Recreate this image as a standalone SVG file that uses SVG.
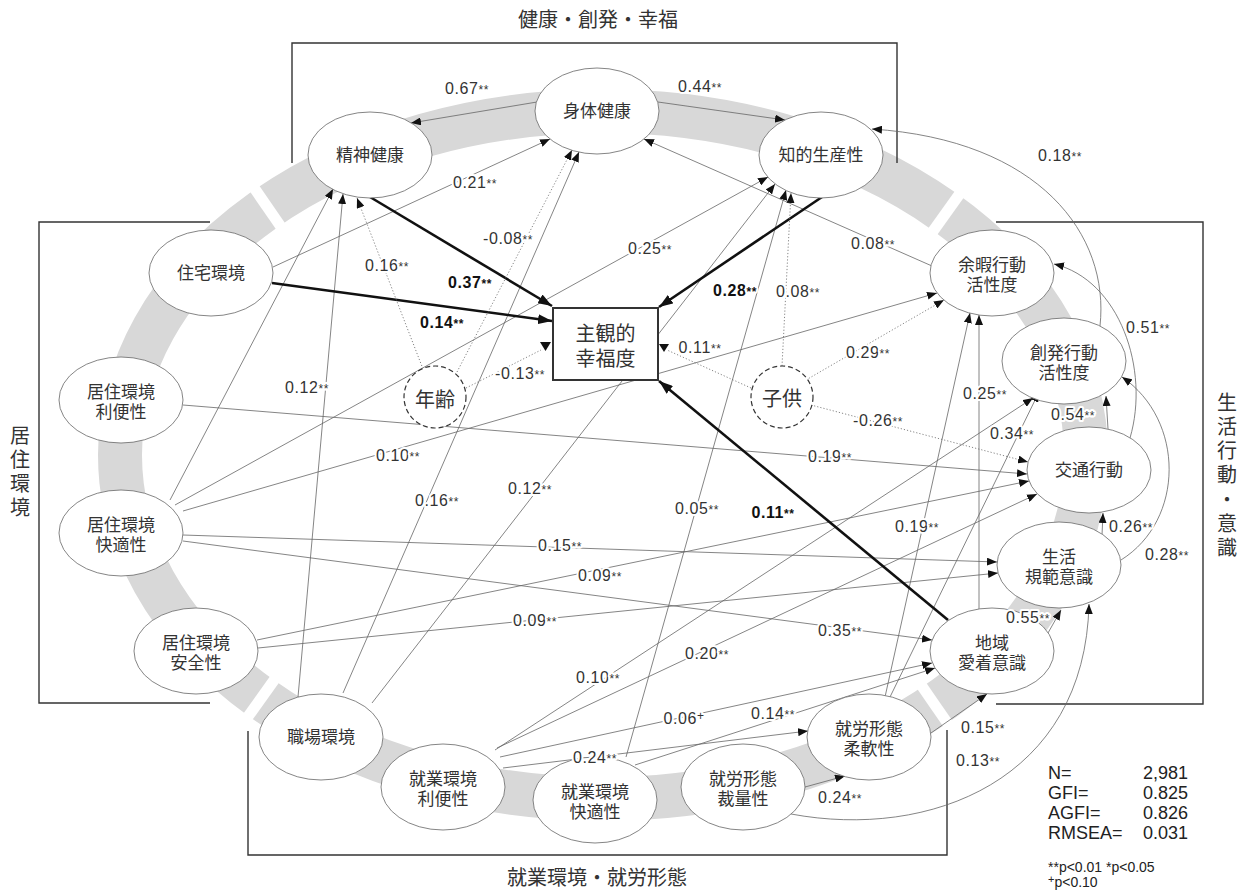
<svg xmlns="http://www.w3.org/2000/svg" width="1245" height="892" viewBox="0 0 1245 892">
<style>
.jp{font-family:"Noto Sans CJK JP","Noto Sans CJK SC",sans-serif;fill:#333;text-anchor:middle}
.nt{font-size:17px}
.big{font-size:20px}
.vt{font-family:"Noto Sans CJK JP","Noto Sans CJK SC",sans-serif;fill:#333;font-size:20px;writing-mode:vertical-rl;text-anchor:start}
.nd ellipse{fill:#fff;stroke:#666;stroke-width:0.8}
.ln{fill:none;stroke:#666;stroke-width:0.8}
.dt{fill:none;stroke:#666;stroke-width:0.8;stroke-dasharray:1.2 2}
.bd{fill:none;stroke:#111;stroke-width:2.6}
.box{fill:none;stroke:#333;stroke-width:1.4}
.lb{font-family:"Liberation Sans",Arial,sans-serif;font-size:16px;fill:#333;text-anchor:middle;letter-spacing:0.6px;stroke:#fff;stroke-width:4px;paint-order:stroke;stroke-linejoin:round}
.b{font-weight:bold;fill:#111}
.s{font-size:12px}
.stat{font-family:"Liberation Sans",Arial,sans-serif;font-size:18px;fill:#222}
.fn{font-family:"Liberation Sans",Arial,sans-serif;font-size:14px;fill:#222}
</style>
<defs>
<marker id="a" viewBox="0 0 10 8" refX="10" refY="4" markerWidth="10" markerHeight="8" markerUnits="userSpaceOnUse" orient="auto"><path d="M0,0L10,4L0,8z" fill="#111"/></marker>
<marker id="ab" viewBox="0 0 14 10" refX="14" refY="5" markerWidth="14" markerHeight="10" markerUnits="userSpaceOnUse" orient="auto"><path d="M0,0L14,5L0,10z" fill="#111"/></marker>
</defs>
<rect width="1245" height="892" fill="#fff"/>
<g id="ring">
<ellipse cx="603" cy="455" rx="483" ry="344" fill="none" stroke="#d8d8d8" stroke-width="44"/>
<g stroke="#fff" stroke-width="11">
<path d="M248,179L288,237"/><path d="M966,185L926,241"/><path d="M242,725L282,669"/><path d="M957,737L917,679"/>
</g>
</g>
<g id="groups">
<path class="box" d="M292,163V43H897V163"/>
<path class="box" d="M210,222H39V703H210"/>
<path class="box" d="M248,731V855H947V730"/>
<path class="box" d="M996,222H1203V704H996"/>
<text class="jp big" x="598" y="27">健康・創発・幸福</text>
<text class="jp big" x="597" y="885">就業環境・就労形態</text>
<text class="vt" x="20" y="425" letter-spacing="4">居住環境</text>
<text class="vt" x="1227" y="392" letter-spacing="4.3">生活行動・意識</text>
</g>
<g id="connectors">
<g class="ln" marker-end="url(#a)">
<path d="M537,102L411,123"/>
<path d="M658,102L785,120"/>
<path d="M273,267L550,139"/>
<path d="M932,266L644,139"/>
<path d="M1100,326C1110,235 1040,140 872,129"/>
<path d="M1130,438C1150,370 1120,280 1054,264"/>
<path d="M1108,429L1106,396"/>
<path d="M1102,535L1103,513"/>
<path d="M1121,560C1185,520 1185,420 1122,377"/>
<path d="M1048,633L1061,610"/>
<path d="M931,733L987,694"/>
<path d="M805,787L845,776"/>
<path d="M791,814C930,840 1085,780 1089,604"/>
<path d="M183,405L1027,474"/>
<path d="M170,500L333,189"/>
<path d="M175,505L768,177"/>
<path d="M183,511L937,293"/>
<path d="M183,535L997,562"/>
<path d="M183,541L932,640"/>
<path d="M257,640L1029,481"/>
<path d="M258,648L998,573"/>
<path d="M298,697L343,194"/>
<path d="M343,693L579,152"/>
<path d="M372,703L775,184"/>
<path d="M495,750L1033,398"/>
<path d="M497,748L1037,494"/>
<path d="M500,757L932,663"/>
<path d="M503,768L808,731"/>
<path d="M635,765L935,668"/>
<path d="M626,757L786,190"/>
<path d="M885,697L970,313"/>
<path d="M890,697L1039,392"/>
<path d="M979,610L979,315"/>
</g>
<g class="bd" marker-end="url(#ab)">
<path d="M272,283L552,321"/>
<path d="M370,197L552,306"/>
<path d="M822,197L659,307"/>
<path d="M948,620L659,381"/>
</g>
<g class="dt">
<path d="M423,369L357,198" marker-end="url(#a)"/>
<path d="M457,372L572,150" marker-end="url(#a)"/>
<path d="M782,366L791,193" marker-end="url(#a)"/>
<path d="M806,380L944,300" marker-end="url(#a)"/>
<path d="M811,405L1028,462" marker-end="url(#a)"/>
<path d="M466,388L541,350"/>
<path d="M751,388L667,350"/>
</g>
<polygon points="540,342 551,342 545.5,351" fill="#111"/>
<polygon points="659,344 669,344 664,352" fill="#111"/>
</g>
<g id="nodes" class="nd">
<g id="n-seishin"><ellipse cx="370" cy="155" rx="62" ry="43"/><text class="jp nt" x="370" y="161">精神健康</text></g>
<g id="n-shintai"><ellipse cx="597" cy="111" rx="62" ry="43"/><text class="jp nt" x="597" y="117">身体健康</text></g>
<g id="n-chiteki"><ellipse cx="821" cy="155" rx="62" ry="43"/><text class="jp nt" x="821" y="161">知的生産性</text></g>
<g id="n-jutaku"><ellipse cx="211" cy="273" rx="62" ry="43"/><text class="jp nt" x="211" y="279">住宅環境</text></g>
<g id="n-kyoju-ben"><ellipse cx="121" cy="400" rx="62" ry="43"/><text class="jp nt"><tspan x="121" y="398">居住環境</tspan><tspan x="121" y="418">利便性</tspan></text></g>
<g id="n-kyoju-kai"><ellipse cx="121" cy="533" rx="62" ry="43"/><text class="jp nt"><tspan x="121" y="531">居住環境</tspan><tspan x="121" y="551">快適性</tspan></text></g>
<g id="n-kyoju-an"><ellipse cx="196" cy="651" rx="62" ry="43"/><text class="jp nt"><tspan x="196" y="649">居住環境</tspan><tspan x="196" y="669">安全性</tspan></text></g>
<g id="n-shokuba"><ellipse cx="321" cy="737" rx="62" ry="43"/><text class="jp nt" x="321" y="743">職場環境</text></g>
<g id="n-shugyo-ben"><ellipse cx="443" cy="787" rx="62" ry="43"/><text class="jp nt"><tspan x="443" y="785">就業環境</tspan><tspan x="443" y="805">利便性</tspan></text></g>
<g id="n-shugyo-kai"><ellipse cx="595" cy="800" rx="62" ry="43"/><text class="jp nt"><tspan x="595" y="798">就業環境</tspan><tspan x="595" y="818">快適性</tspan></text></g>
<g id="n-sairyo"><ellipse cx="743" cy="787" rx="62" ry="43"/><text class="jp nt"><tspan x="743" y="785">就労形態</tspan><tspan x="743" y="805">裁量性</tspan></text></g>
<g id="n-junan"><ellipse cx="869" cy="737" rx="62" ry="43"/><text class="jp nt"><tspan x="869" y="735">就労形態</tspan><tspan x="869" y="755">柔軟性</tspan></text></g>
<g id="n-chiiki"><ellipse cx="992" cy="651" rx="62" ry="43"/><text class="jp nt"><tspan x="992" y="649">地域</tspan><tspan x="992" y="669">愛着意識</tspan></text></g>
<g id="n-kihan"><ellipse cx="1059" cy="565" rx="62" ry="43"/><text class="jp nt"><tspan x="1059" y="563">生活</tspan><tspan x="1059" y="583">規範意識</tspan></text></g>
<g id="n-kotsu"><ellipse cx="1089" cy="470" rx="62" ry="43"/><text class="jp nt" x="1089" y="476">交通行動</text></g>
<g id="n-sohatsu"><ellipse cx="1064" cy="361" rx="62" ry="43"/><text class="jp nt"><tspan x="1064" y="359">創発行動</tspan><tspan x="1064" y="379">活性度</tspan></text></g>
<g id="n-yoka"><ellipse cx="992" cy="273" rx="62" ry="43"/><text class="jp nt"><tspan x="992" y="271">余暇行動</tspan><tspan x="992" y="291">活性度</tspan></text></g>
<g id="n-shukan"><rect x="553" y="308" width="105" height="72" fill="#fff" stroke="#333" stroke-width="2"/><text class="jp big"><tspan x="605.5" y="341">主観的</tspan><tspan x="605.5" y="366">幸福度</tspan></text></g>
<g id="n-nenrei"><circle cx="435" cy="397" r="31" fill="#fff" stroke="#333" stroke-width="1.2" stroke-dasharray="5 3"/><text class="jp big" x="435" y="407">年齢</text></g>
<g id="n-kodomo"><circle cx="782" cy="397" r="31" fill="#fff" stroke="#333" stroke-width="1.2" stroke-dasharray="5 3"/><text class="jp big" x="782" y="406">子供</text></g>
</g>
<g id="labels" class="lb">
<text x="467" y="94">0.67<tspan class="s">**</tspan></text>
<text x="700" y="92">0.44<tspan class="s">**</tspan></text>
<text x="475" y="188">0.21<tspan class="s">**</tspan></text>
<text x="387" y="271">0.16<tspan class="s">**</tspan></text>
<text x="508" y="244">-0.08<tspan class="s">**</tspan></text>
<text class="b" x="470" y="288">0.37<tspan class="s">**</tspan></text>
<text class="b" x="442" y="328">0.14<tspan class="s">**</tspan></text>
<text x="650" y="254">0.25<tspan class="s">**</tspan></text>
<text class="b" x="735" y="296">0.28<tspan class="s">**</tspan></text>
<text x="798" y="297">0.08<tspan class="s">**</tspan></text>
<text x="873" y="249">0.08<tspan class="s">**</tspan></text>
<text x="1060" y="161">0.18<tspan class="s">**</tspan></text>
<text x="1148" y="333">0.51<tspan class="s">**</tspan></text>
<text x="868" y="358">0.29<tspan class="s">**</tspan></text>
<text x="700" y="353">0.11<tspan class="s">**</tspan></text>
<text x="520" y="379">-0.13<tspan class="s">**</tspan></text>
<text x="307" y="393">0.12<tspan class="s">**</tspan></text>
<text x="398" y="461">0.10<tspan class="s">**</tspan></text>
<text x="830" y="462">0.19<tspan class="s">**</tspan></text>
<text x="878" y="426">-0.26<tspan class="s">**</tspan></text>
<text x="985" y="399">0.25<tspan class="s">**</tspan></text>
<text x="1073" y="420">0.54<tspan class="s">**</tspan></text>
<text x="1012" y="439">0.34<tspan class="s">**</tspan></text>
<text x="437" y="506">0.16<tspan class="s">**</tspan></text>
<text x="530" y="494">0.12<tspan class="s">**</tspan></text>
<text x="697" y="514">0.05<tspan class="s">**</tspan></text>
<text class="b" x="773" y="518">0.11<tspan class="s">**</tspan></text>
<text x="1131" y="532">0.26<tspan class="s">**</tspan></text>
<text x="560" y="551">0.15<tspan class="s">**</tspan></text>
<text x="917" y="532">0.19<tspan class="s">**</tspan></text>
<text x="1167" y="560">0.28<tspan class="s">**</tspan></text>
<text x="600" y="581">0.09<tspan class="s">**</tspan></text>
<text x="535" y="626">0.09<tspan class="s">**</tspan></text>
<text x="840" y="636">0.35<tspan class="s">**</tspan></text>
<text x="1028" y="623">0.55<tspan class="s">**</tspan></text>
<text x="707" y="659">0.20<tspan class="s">**</tspan></text>
<text x="598" y="683">0.10<tspan class="s">**</tspan></text>
<text x="684" y="724">0.06<tspan class="s" dy="-4">+</tspan></text>
<text x="773" y="719">0.14<tspan class="s">**</tspan></text>
<text x="983" y="733">0.15<tspan class="s">**</tspan></text>
<text x="595" y="763">0.24<tspan class="s">**</tspan></text>
<text x="978" y="766">0.13<tspan class="s">**</tspan></text>
<text x="840" y="803">0.24<tspan class="s">**</tspan></text>
</g>
<g id="stats">
<text class="stat" x="1048" y="779">N=</text><text class="stat" x="1143" y="779">2,981</text>
<text class="stat" x="1048" y="799">GFI=</text><text class="stat" x="1143" y="799">0.825</text>
<text class="stat" x="1048" y="819">AGFI=</text><text class="stat" x="1143" y="819">0.826</text>
<text class="stat" x="1048" y="839">RMSEA=</text><text class="stat" x="1143" y="839">0.031</text>
<text class="fn" x="1048" y="872">**p&lt;0.01 *p&lt;0.05</text>
<text class="fn" x="1048" y="887"><tspan font-size="11" dy="-4">+</tspan><tspan dy="4">p&lt;0.10</tspan></text>
</g>
</svg>
